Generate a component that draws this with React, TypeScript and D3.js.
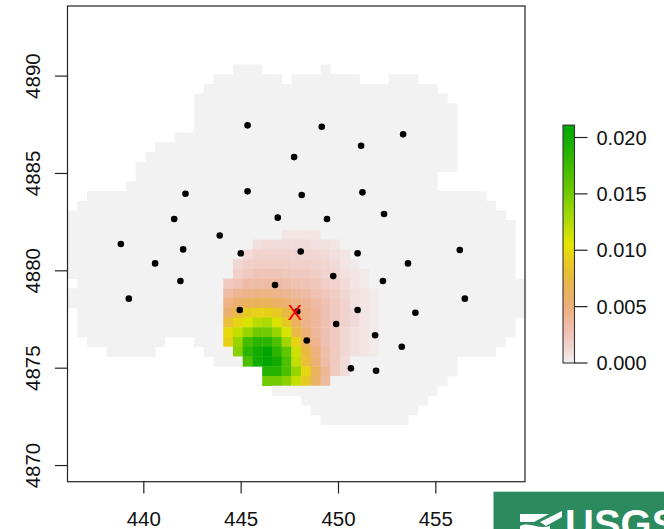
import React, { useEffect, useRef } from 'react';
import * as d3 from 'd3';

// raster grid: upper-left corner and cell size (km)
const gridX0 = 436.08;
const gridY0 = 4893.6;
const cellSize = 0.5;

const xTicks = [440, 445, 450, 455];
const yTicks = [4870, 4875, 4880, 4885, 4890];
const legendTicks = [0, 0.005, 0.01, 0.015, 0.02];

// cells inside the mapped area (value ~0): [row, firstCol, lastCol]
const maskRuns = [
  [6, 17, 19], [6, 26, 26],
  [7, 15, 21], [7, 23, 29], [7, 33, 35],
  [8, 14, 37],
  [9, 13, 38],
  [10, 13, 39], [11, 13, 39], [12, 13, 39],
  [13, 11, 39],
  [14, 9, 39],
  [15, 8, 39],
  [16, 7, 39],
  [17, 7, 37],
  [18, 6, 37],
  [19, 2, 42],
  [20, 1, 43],
  [21, 0, 44],
  [22, 0, 45], [23, 0, 45], [24, 0, 45], [25, 0, 45], [26, 0, 45], [27, 0, 45],
  [28, 1, 46],
  [29, 0, 46], [30, 0, 46],
  [31, 1, 46],
  [32, 1, 45], [33, 1, 45],
  [34, 2, 9], [34, 13, 44],
  [35, 4, 8], [35, 14, 43],
  [36, 15, 39],
  [37, 20, 39],
  [38, 20, 38],
  [39, 21, 37],
  [40, 24, 36],
  [41, 25, 35],
  [42, 26, 34],
];

// density values (x 0.001): [row, firstCol, values]
const densityRows: [number, number, number[]][] = [
  [23, 22, [0.6, 0.6, 0.6, 0.6]],
  [24, 19, [0.8, 1.1, 1.1, 1.1, 1.1, 1.1, 0.8, 0.7, 0.6]],
  [25, 18, [1.1, 1.5, 1.5, 1.5, 1.5, 1.5, 1.3, 1.3, 1.1, 0.8, 0.6]],
  [26, 17, [1.3, 1.7, 1.9, 1.9, 1.9, 1.9, 1.7, 1.7, 1.5, 1.3, 1.1, 0.6, 0.4]],
  [27, 17, [1.7, 2.1, 2.5, 2.5, 2.5, 2.3, 2.1, 2.1, 1.9, 1.5, 1.3, 0.8, 0.6, 0.4]],
  [28, 16, [2.1, 2.5, 3.2, 3.2, 3.2, 3.2, 3.0, 2.7, 2.5, 2.3, 1.9, 1.5, 1.1, 0.6, 0.4]],
  [29, 16, [3.2, 4.0, 4.4, 4.6, 4.6, 4.4, 4.0, 3.6, 3.2, 2.7, 2.3, 1.9, 1.3, 0.8, 0.6, 0.4]],
  [30, 16, [4.6, 5.7, 6.3, 6.5, 6.5, 6.1, 5.5, 4.6, 4.0, 3.4, 2.7, 2.1, 1.5, 0.8, 0.6, 0.4]],
  [31, 16, [5.7, 7.6, 9.1, 9.5, 9.5, 8.9, 7.6, 5.9, 4.6, 3.6, 2.7, 2.1, 1.5, 1.1, 0.6, 0.4]],
  [32, 16, [8.0, 9.7, 11.0, 12.2, 12.7, 11.0, 8.9, 6.3, 4.4, 3.6, 2.7, 2.1, 1.5, 1.1, 0.6, 0.4]],
  [33, 16, [9.9, 11.8, 13.5, 15.2, 15.2, 13.5, 11.0, 7.4, 5.3, 3.6, 2.7, 2.1, 1.3, 0.8, 0.6, 0.4]],
  [34, 16, [9.5, 13.5, 17.3, 18.6, 18.6, 16.9, 13.1, 9.5, 6.3, 4.2, 2.7, 2.1, 1.3, 0.8, 0.6, 0.4]],
  [35, 17, [14.1, 18.6, 20.0, 21.1, 18.6, 16.0, 11.4, 7.6, 4.9, 3.0, 2.1, 1.3, 0.8, 0.6, 0.4]],
  [36, 18, [16.9, 20.0, 21.0, 20.0, 16.9, 11.8, 8.0, 5.3, 3.2, 2.1, 1.1]],
  [37, 20, [19.0, 19.0, 16.9, 13.5, 9.7, 6.3, 3.8, 2.1, 1.1]],
  [38, 20, [15.2, 15.2, 14.1, 11.8, 8.9, 5.9, 3.4]],
];

// sample sites
const siteX = [445.33, 449.14, 453.32, 451.16, 447.72, 442.14, 445.33, 448.11, 451.23, 441.56,
  446.88, 449.41, 452.34, 443.9, 438.82, 442.02, 444.98, 448.06, 450.98, 456.23,
  440.58, 453.57, 449.73, 441.88, 446.74, 452.28, 439.23, 456.49, 444.93, 447.88,
  450.98, 453.95, 449.88, 448.37, 451.88, 453.25, 450.64, 451.93];
const siteY = [4887.47, 4887.4, 4887.01, 4886.42, 4885.84, 4883.96, 4884.08, 4883.89, 4884.03, 4882.66,
  4882.73, 4882.66, 4882.92, 4881.81, 4881.38, 4881.1, 4880.9, 4880.99, 4880.9, 4881.07,
  4880.38, 4880.38, 4879.73, 4879.48, 4879.27, 4879.48, 4878.57, 4878.57, 4877.99, 4877.91,
  4877.99, 4877.85, 4877.27, 4876.42, 4876.69, 4876.1, 4874.99, 4874.87];

// estimated location
const estX = 447.76;
const estY = 4877.9;

const FONT = '"Liberation Sans", Arial, sans-serif';

const hsv = (h: number, s: number, v: number) => {
  const i = Math.floor(h * 6);
  const f = h * 6 - i;
  const p = v * (1 - s);
  const q = v * (1 - f * s);
  const t = v * (1 - (1 - f) * s);
  const k = [[v, t, p], [q, v, p], [p, v, t], [p, q, v], [t, p, v], [v, p, q]][((i % 6) + 6) % 6];
  return d3.rgb(k[0] * 255, k[1] * 255, k[2] * 255).formatHex();
};

// rev(terrain.colors): 0 = light grey, 1 = green
const terrain = (t: number) => {
  const p = 1 - Math.max(0, Math.min(1, t));
  if (p <= 0.5) {
    const u = p / 0.5;
    return hsv(1 / 3 - u / 6, 1, 0.65 + 0.25 * u);
  }
  const u = (p - 0.5) / 0.5;
  return hsv(1 / 6 - u / 6, 1 - u, 0.9 + 0.05 * u);
};

const App = () => {
  const svgRef = useRef<SVGSVGElement>(null);

  useEffect(() => {
    const svg = d3.select(svgRef.current);
    svg.selectAll('*').remove();

    const x = d3.scaleLinear().domain([gridX0, gridX0 + 47 * cellSize]).range([67.5, 525]);
    const y = d3.scaleLinear().domain([4869.17, gridY0]).range([481.7, 6]);

    // build cells
    const values = new Map<string, number>();
    maskRuns.forEach(([r, c0, c1]) => {
      for (let c = c0; c <= c1; c++) values.set(`${r},${c}`, 0);
    });
    densityRows.forEach(([r, c0, vals]) => {
      vals.forEach((v, i) => values.set(`${r},${c0 + i}`, v / 1000));
    });
    const cells = Array.from(values, ([k, v]) => {
      const [r, c] = k.split(',').map(Number);
      return { r, c, v };
    });
    const zMax = d3.max(cells, d => d.v) as number;

    svg
      .append('g')
      .selectAll('rect')
      .data(cells)
      .enter()
      .append('rect')
      .attr('x', d => x(gridX0 + d.c * cellSize))
      .attr('y', d => y(gridY0 - d.r * cellSize))
      .attr('width', x(gridX0 + cellSize) - x(gridX0) + 0.4)
      .attr('height', y(gridY0 - cellSize) - y(gridY0) + 0.4)
      .attr('fill', d => terrain(d.v / zMax));

    // sites
    svg
      .append('g')
      .selectAll('circle')
      .data(siteX.map((sx, i) => [sx, siteY[i]]))
      .enter()
      .append('circle')
      .attr('cx', d => x(d[0]))
      .attr('cy', d => y(d[1]))
      .attr('r', 3.3)
      .attr('fill', '#000');

    svg
      .append('text')
      .attr('x', x(estX))
      .attr('y', y(estY) + 8)
      .attr('text-anchor', 'middle')
      .attr('fill', '#ff0000')
      .style('font-family', FONT)
      .style('font-size', '22px')
      .text('X');

    // frame
    svg
      .append('rect')
      .attr('x', 67.5)
      .attr('y', 6)
      .attr('width', 525 - 67.5)
      .attr('height', 481.7 - 6)
      .attr('fill', 'none')
      .attr('stroke', '#222')
      .attr('stroke-width', 1.2);

    // axes
    const xAxis = svg.append('g');
    xTicks.forEach(t => {
      xAxis.append('line')
        .attr('x1', x(t)).attr('x2', x(t))
        .attr('y1', 481.7).attr('y2', 493.5)
        .attr('stroke', '#222').attr('stroke-width', 1.2);
      xAxis.append('text')
        .attr('x', x(t)).attr('y', 526)
        .attr('text-anchor', 'middle')
        .attr('fill', '#111')
        .style('font-family', FONT).style('font-size', '20.5px')
        .text(t);
    });
    const yAxis = svg.append('g');
    yTicks.forEach(t => {
      yAxis.append('line')
        .attr('x1', 55).attr('x2', 67.5)
        .attr('y1', y(t)).attr('y2', y(t))
        .attr('stroke', '#222').attr('stroke-width', 1.2);
      yAxis.append('text')
        .attr('transform', `translate(40,${y(t)}) rotate(-90)`)
        .attr('text-anchor', 'middle')
        .attr('fill', '#111')
        .style('font-family', FONT).style('font-size', '20.5px')
        .text(t);
    });

    // legend
    const ly = d3.scaleLinear().domain([0, 0.02]).range([363, 137.5]);
    const steps = d3.range(0, 120);
    const legend = svg.append('g');
    legend
      .selectAll('rect')
      .data(steps)
      .enter()
      .append('rect')
      .attr('x', 563)
      .attr('width', 11.5)
      .attr('y', i => ly((zMax * (i + 1)) / steps.length))
      .attr('height', i => ly((zMax * i) / steps.length) - ly((zMax * (i + 1)) / steps.length) + 0.5)
      .attr('fill', i => terrain((i + 0.5) / steps.length));
    legend.append('rect')
      .attr('x', 563).attr('width', 11.5)
      .attr('y', ly(zMax)).attr('height', ly(0) - ly(zMax))
      .attr('fill', 'none').attr('stroke', '#333').attr('stroke-width', 1.1);
    legendTicks.forEach(t => {
      legend.append('line')
        .attr('x1', 574.5).attr('x2', 587.5)
        .attr('y1', ly(t)).attr('y2', ly(t))
        .attr('stroke', '#222').attr('stroke-width', 1.2);
      legend.append('text')
        .attr('x', 596.5).attr('y', ly(t) + 7.2)
        .attr('fill', '#111')
        .style('font-family', FONT).style('font-size', '20px')
        .text(d3.format('.3f')(t));
    });

    // USGS badge, cut off by the page corner as in the source image
    const badge = svg.append('g');
    badge.append('rect')
      .attr('x', 493.5).attr('y', 491.7)
      .attr('width', 175).attr('height', 40)
      .attr('fill', '#2b8a5e');
    badge.append('path')
      .attr('d', 'M520,514 L549,514 L534,522 L520,522 Z M540,522 L562,511 L562,517 L546,526 Z M520,526 C530,521 538,530 550,526 L550,531 L520,531 Z')
      .attr('fill', '#fff');
    badge.append('text')
      .attr('x', 565).attr('y', 538)
      .attr('fill', '#fff')
      .style('font-family', FONT).style('font-size', '40px').style('font-weight', 'bold')
      .text('USGS');

    return () => {
      svg.selectAll('*').remove();
    };
  }, []);

  return (
    <svg
      ref={svgRef}
      width={664}
      height={529}
      style={{ position: 'absolute', left: 0, top: 0, display: 'block', background: '#fff' }}
    />
  );
};

export default App;
